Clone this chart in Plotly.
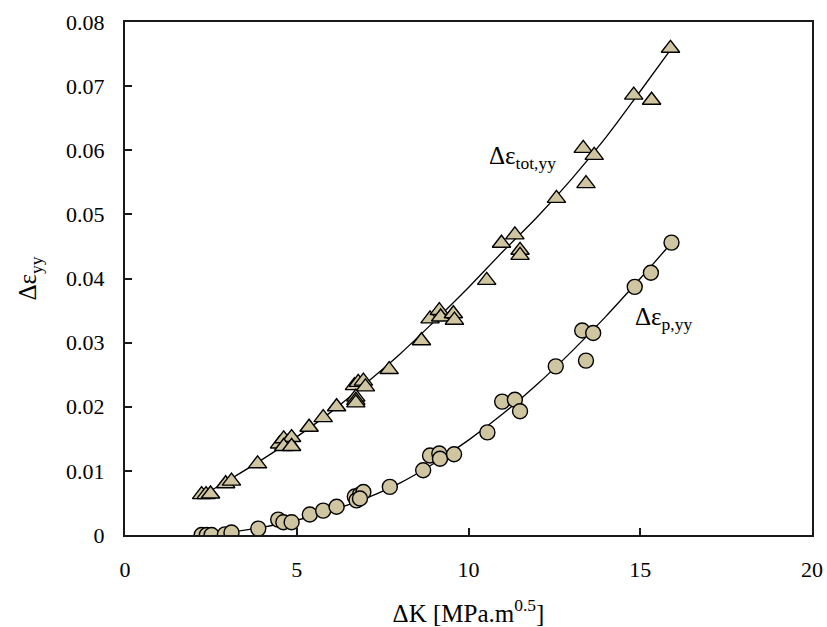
import plotly.graph_objects as go

# Total strain range (triangles)
dk_tot = [2.23, 2.36, 2.49, 2.93, 3.10, 3.86, 4.50, 4.62, 4.75, 4.85, 4.62, 4.85,
          5.36, 5.77, 6.16, 6.68, 6.79, 6.94, 7.00, 6.72, 6.72, 6.72,
          7.69, 8.63, 8.88, 9.15, 9.19, 9.56, 9.59, 10.53, 10.96, 11.35,
          11.50, 11.50, 12.56, 13.34, 13.42, 13.66, 14.81, 15.33, 15.88]
eps_tot = [0.0063, 0.0063, 0.0064, 0.0080, 0.0084, 0.0111, 0.0142, 0.0150, 0.0145, 0.0152, 0.0138, 0.0138,
           0.0168, 0.0183, 0.0200, 0.0233, 0.0238, 0.0240, 0.0231, 0.0215, 0.0210, 0.0206,
           0.0258, 0.0303, 0.0337, 0.0350, 0.0340, 0.0345, 0.0335, 0.0397, 0.0455, 0.0468,
           0.0444, 0.0436, 0.0525, 0.0603, 0.0548, 0.0592, 0.0686, 0.0678, 0.0759]

# Plastic strain range (circles)
dk_p = [2.23, 2.38, 2.52, 2.91, 3.10, 3.88, 4.46, 4.61, 4.85, 5.38, 5.77, 6.16,
        6.69, 6.84, 6.94, 6.74, 6.84, 7.71, 8.68, 8.88, 9.15, 9.17, 9.58,
        10.55, 10.98, 11.35, 11.50, 12.54, 13.31, 13.42, 13.63, 14.84, 15.31, 15.91]
eps_p = [0.0000, 0.0000, 0.0000, 0.0001, 0.0004, 0.0010, 0.0024, 0.0020, 0.0020, 0.0032, 0.0038, 0.0044,
         0.0060, 0.0063, 0.0067, 0.0054, 0.0057, 0.0075, 0.0101, 0.0124, 0.0127, 0.0119, 0.0126,
         0.0160, 0.0208, 0.0211, 0.0193, 0.0263, 0.0319, 0.0272, 0.0315, 0.0387, 0.0409, 0.0456]

# Trend lines
fit_dk = [2.2, 3.0, 4.0, 5.0, 6.0, 7.0, 8.0, 9.0, 10.0, 11.0, 12.0, 13.0, 14.0, 15.0, 15.9]
fit_tot = [0.0060, 0.0085, 0.0118, 0.0153, 0.0192, 0.0236, 0.0282, 0.0333, 0.0386,
           0.0442, 0.0496, 0.0555, 0.0620, 0.0692, 0.0758]
fit_p = [0.0000, 0.0004, 0.0012, 0.0023, 0.0038, 0.0057, 0.0081, 0.0112, 0.0148,
         0.0189, 0.0235, 0.0286, 0.0341, 0.0400, 0.0455]

x_ticks = [0, 5, 10, 15, 20]
y_ticks = [0, 0.01, 0.02, 0.03, 0.04, 0.05, 0.06, 0.07, 0.08]

FONT = "Liberation Serif, Times New Roman, serif"
FILL = "#cfc6a1"

fig = go.Figure()

fig.add_trace(go.Scatter(x=fit_dk, y=fit_tot, mode="lines", line=dict(color="black", width=1.3, shape="spline"),
                         hoverinfo="skip", showlegend=False))
fig.add_trace(go.Scatter(x=fit_dk, y=fit_p, mode="lines", line=dict(color="black", width=1.3, shape="spline"),
                         hoverinfo="skip", showlegend=False))

fig.add_trace(go.Scatter(x=dk_tot, y=eps_tot, mode="markers", showlegend=False,
                         marker=dict(symbol="triangle-up", size=16, color=FILL,
                                     line=dict(color="black", width=1.4))))
fig.add_trace(go.Scatter(x=dk_p, y=eps_p, mode="markers", showlegend=False,
                         marker=dict(symbol="circle", size=15, color=FILL,
                                     line=dict(color="black", width=1.4))))

fig.add_annotation(x=12.6, y=0.0588, xref="x", yref="y", xanchor="right", yanchor="middle",
                   text="Δε<sub>tot,yy</sub>", showarrow=False, font=dict(family=FONT, size=25, color="black"))
fig.add_annotation(x=14.8, y=0.0337, xref="x", yref="y", xanchor="left", yanchor="middle",
                   text="Δε<sub>p,yy</sub>", showarrow=False, font=dict(family=FONT, size=25, color="black"))

axis_common = dict(showline=True, linecolor="#1a1a1a", linewidth=2, mirror=True,
                   ticks="inside", ticklen=7, tickwidth=1.5, tickcolor="#1a1a1a",
                   showgrid=False, zeroline=False, automargin=False,
                   tickfont=dict(family=FONT, size=22, color="black"))

fig.update_xaxes(range=[0, 20], tickvals=x_ticks, ticktext=[str(v) for v in x_ticks],
                 ticklabelstandoff=14,
                 title=dict(text="ΔK [MPa.m<sup>0.5</sup>]", font=dict(family=FONT, size=25, color="black"),
                            standoff=24),
                 **axis_common)
fig.update_yaxes(range=[0, 0.08], tickvals=y_ticks,
                 ticktext=["0" if v == 0 else f"{v:.2f}" for v in y_ticks],
                 ticklabelstandoff=14,
                 title=dict(text="Δε<sub>yy</sub>", font=dict(family=FONT, size=25, color="black"),
                            standoff=22),
                 **axis_common)

fig.update_layout(width=827, height=627, margin=dict(l=125, r=15, t=22, b=92),
                  paper_bgcolor="white", plot_bgcolor="white",
                  font=dict(family=FONT, color="black"))

fig.write_html("out.html")
